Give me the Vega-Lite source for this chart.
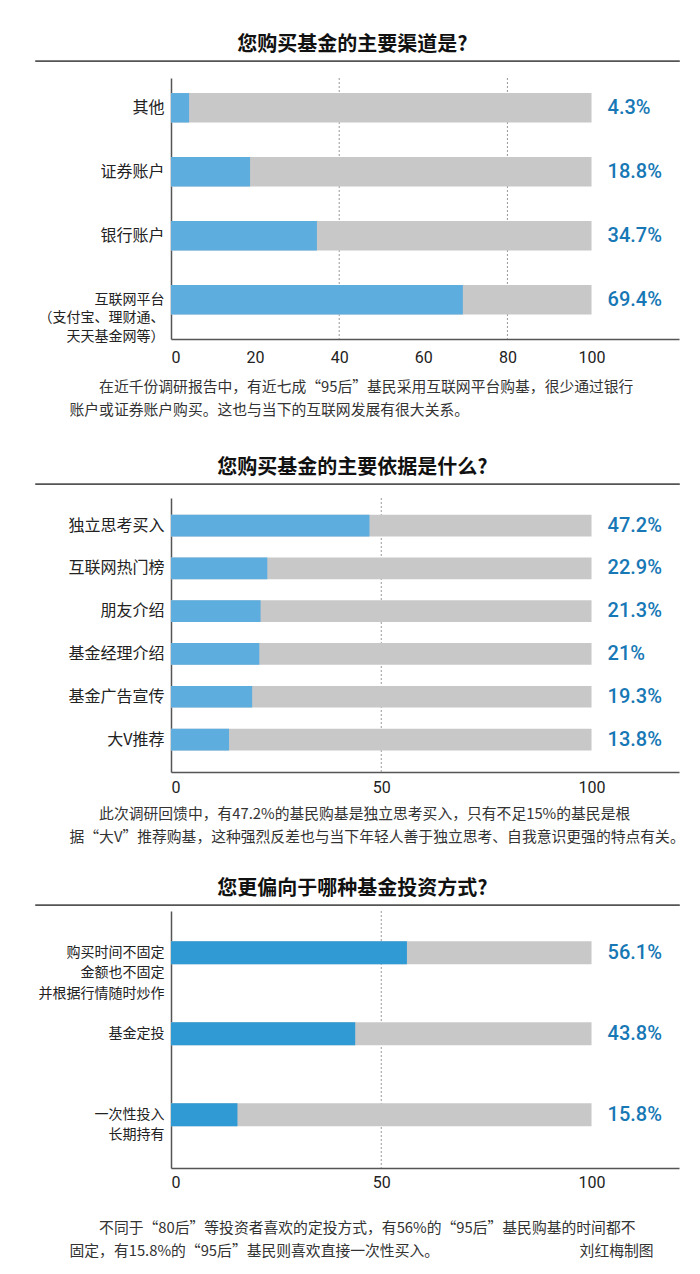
{
  "$schema": "https://vega.github.io/schema/vega-lite/v6.json",
  "background": "white",
  "padding": {"left": 35, "right": 22, "top": 34, "bottom": 0},
  "autosize": {"type": "pad"},
  "config": {
    "view": {"stroke": null},
    "font": "Noto Sans CJK SC",
    "title": {"fontSize": 20, "fontWeight": "bold", "color": "#111111", "anchor": "middle", "offset": 6, "dx": -5, "font": "Noto Sans CJK SC"},
    "axisX": {"grid": false, "ticks": false, "domainColor": "#555555", "domainWidth": 1.5, "labelFont": "Roboto", "labelFontSize": 16, "labelColor": "#222222", "titleFont": "Noto Sans CJK SC", "titleFontSize": 14.8, "titleFontWeight": "normal", "titleColor": "#333333", "titleAlign": "left", "titleAnchor": "start", "titleX": 33, "titleLineHeight": 23.5},
    "axisY": {"grid": false, "ticks": false, "domainColor": "#555555", "domainWidth": 1.5, "labelFont": "Noto Sans CJK SC", "labelFontSize": 16, "labelColor": "#222222", "labelPadding": 7, "title": null, "offset": -135, "labelExpr": "split(datum.label, '|')"}
  },
  "datasets": {
    "channel": [
      {"item": "其他", "value": 4.3},
      {"item": "证券账户", "value": 18.8},
      {"item": "银行账户", "value": 34.7},
      {"item": "互联网平台|（支付宝、理财通、|天天基金网等）", "value": 69.4}
    ],
    "basis": [
      {"item": "独立思考买入", "value": 47.2},
      {"item": "互联网热门榜", "value": 22.9},
      {"item": "朋友介绍", "value": 21.3},
      {"item": "基金经理介绍", "value": 21},
      {"item": "基金广告宣传", "value": 19.3},
      {"item": "大V推荐", "value": 13.8}
    ],
    "style": [
      {"item": "购买时间不固定|金额也不固定|并根据行情随时炒作", "value": 56.1},
      {"item": "基金定投", "value": 43.8},
      {"item": "一次性投入|长期持有", "value": 15.8}
    ]
  },
  "spacing": 39,
  "vconcat": [
    {
      "spacing": 15,
      "vconcat": [
        {"width": 643, "height": 0.1, "title": {"text": "您购买基金的主要渠道是?"}, "view": {"stroke": "#555555", "strokeWidth": 1.6}, "data": {"values": []}, "mark": "rule", "encoding": {}},
        {
          "width": 643, "height": 261,
          "layer": [
            {"data": {"values": [{"g": 40}, {"g": 80}]}, "mark": {"type": "rule", "strokeDash": [2, 2], "color": "#999999", "strokeWidth": 1}, "encoding": {"x": {"field": "g", "type": "quantitative"}}},
            {"data": {"name": "channel"}, "mark": {"type": "bar", "color": "#c8c8c8"},
             "encoding": {
               "y": {"field": "item", "type": "nominal", "sort": null, "scale": {"paddingInner": 0.54, "paddingOuter": 0.31, "align": 0.38}, "axis": {"labelFontSize": {"condition": {"test": "indexof(datum.label, '|') >= 0", "value": 14}, "value": 16}, "labelLineHeight": 18.5}},
               "x": {"datum": 100, "type": "quantitative", "scale": {"domain": [0, 120.8], "range": [135, 643], "nice": false, "zero": true},
                     "axis": {"values": [0, 20, 40, 60, 80, 100], "labelPadding": 10, "titlePadding": 14,
                              "title": ["\u200b　　在近千份调研报告中，有近七成“95后”基民采用互联网平台购基，很少通过银行", "账户或证券账户购买。这也与当下的互联网发展有很大关系。"]}}
             }},
            {"data": {"name": "channel"}, "mark": {"type": "bar", "color": "#5eaddf"},
             "encoding": {"y": {"field": "item", "type": "nominal", "sort": null}, "x": {"field": "value", "type": "quantitative"}}},
            {"data": {"name": "channel"}, "mark": {"type": "text", "align": "left", "baseline": "middle", "dx": 16, "font": "Roboto", "fontWeight": 500, "fontSize": 20, "color": "#1778b5", "text": {"expr": "format(datum.value, '.1~f') + '%'"}},
             "encoding": {"y": {"field": "item", "type": "nominal", "sort": null}, "x": {"datum": 100, "type": "quantitative"}}}
          ]
        }
      ]
    },
    {
      "spacing": 33,
      "vconcat": [
        {
          "spacing": 12,
          "vconcat": [
            {"width": 643, "height": 0.1, "title": {"text": "您购买基金的主要依据是什么?"}, "view": {"stroke": "#555555", "strokeWidth": 1.6}, "data": {"values": []}, "mark": "rule", "encoding": {}},
            {
              "width": 643, "height": 274,
              "layer": [
                {"data": {"values": [{"g": 50}]}, "mark": {"type": "rule", "strokeDash": [2, 2], "color": "#999999", "strokeWidth": 1}, "encoding": {"x": {"field": "g", "type": "quantitative"}}},
                {"data": {"name": "basis"}, "mark": {"type": "bar", "color": "#c8c8c8"},
                 "encoding": {
                   "y": {"field": "item", "type": "nominal", "sort": null, "scale": {"paddingInner": 0.493, "paddingOuter": 0.447, "align": 0.436}},
                   "x": {"datum": 100, "type": "quantitative", "scale": {"domain": [0, 120.8], "range": [135, 643], "nice": false, "zero": true},
                         "axis": {"values": [0, 50, 100], "labelPadding": 7, "titlePadding": 11,
                                  "title": ["\u200b　　此次调研回馈中，有47.2%的基民购基是独立思考买入，只有不足15%的基民是根", "据“大V”推荐购基，这种强烈反差也与当下年轻人善于独立思考、自我意识更强的特点有关。"]}}
                 }},
                {"data": {"name": "basis"}, "mark": {"type": "bar", "color": "#5eaddf"},
                 "encoding": {"y": {"field": "item", "type": "nominal", "sort": null}, "x": {"field": "value", "type": "quantitative"}}},
                {"data": {"name": "basis"}, "mark": {"type": "text", "align": "left", "baseline": "middle", "dx": 16, "font": "Roboto", "fontWeight": 500, "fontSize": 20, "color": "#1778b5", "text": {"expr": "format(datum.value, '.1~f') + '%'"}},
                 "encoding": {"y": {"field": "item", "type": "nominal", "sort": null}, "x": {"datum": 100, "type": "quantitative"}}}
              ]
            }
          ]
        },
        {
          "spacing": 4,
          "vconcat": [
            {"width": 643, "height": 0.1, "title": {"text": "您更偏向于哪种基金投资方式?"}, "view": {"stroke": "#555555", "strokeWidth": 1.6}, "data": {"values": []}, "mark": "rule", "encoding": {}},
            {
              "width": 643, "height": 257,
              "layer": [
                {"data": {"values": [{"g": 50}]}, "mark": {"type": "rule", "strokeDash": [2, 2], "color": "#999999", "strokeWidth": 1}, "encoding": {"x": {"field": "g", "type": "quantitative"}}},
                {"data": {"name": "style"}, "mark": {"type": "bar", "color": "#c8c8c8"},
                 "encoding": {
                   "y": {"field": "item", "type": "nominal", "sort": null, "scale": {"paddingInner": 0.716, "paddingOuter": 0.444, "align": 0.42}, "axis": {"labelFontSize": 14, "labelLineHeight": 20.5}},
                   "x": {"datum": 100, "type": "quantitative", "scale": {"domain": [0, 120.8], "range": [135, 643], "nice": false, "zero": true},
                         "axis": {"values": [0, 50, 100], "labelPadding": 6, "titlePadding": 30,
                                  "title": ["\u200b　　不同于“80后”等投资者喜欢的定投方式，有56%的“95后”基民购基的时间都不", "固定，有15.8%的“95后”基民则喜欢直接一次性买入。　　　　　　　　　　刘红梅制图"]}}
                 }},
                {"data": {"name": "style"}, "mark": {"type": "bar", "color": "#2f9ad3"},
                 "encoding": {"y": {"field": "item", "type": "nominal", "sort": null}, "x": {"field": "value", "type": "quantitative"}}},
                {"data": {"name": "style"}, "mark": {"type": "text", "align": "left", "baseline": "middle", "dx": 16, "font": "Roboto", "fontWeight": 500, "fontSize": 20, "color": "#1778b5", "text": {"expr": "format(datum.value, '.1~f') + '%'"}},
                 "encoding": {"y": {"field": "item", "type": "nominal", "sort": null}, "x": {"datum": 100, "type": "quantitative"}}}
              ]
            }
          ]
        }
      ]
    }
  ]
}
